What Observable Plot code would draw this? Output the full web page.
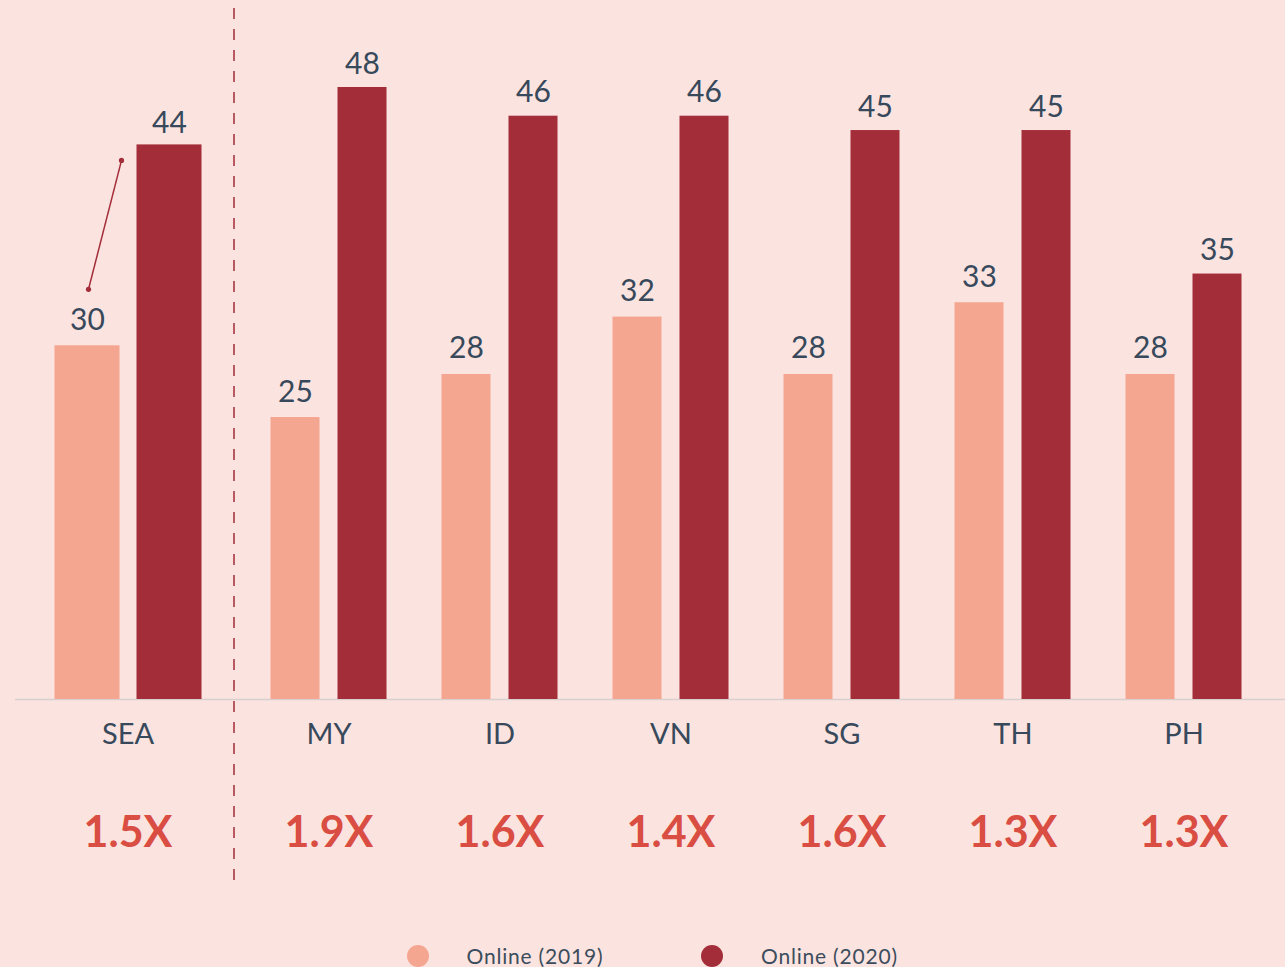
<!DOCTYPE html>
<html>
<head>
<meta charset="utf-8">
<script src="https://cdn.jsdelivr.net/npm/d3@7"></script>
<script src="https://cdn.jsdelivr.net/npm/@observablehq/plot@0.6"></script>
<style>
  html, body { margin: 0; padding: 0; background: #fbe3e0; }
  body { width: 1285px; height: 967px; overflow: hidden; font-family: Lato, "Open Sans", sans-serif; }
  #wrap { position: relative; width: 1285px; height: 967px; }
  #chart svg { display: block; }
  .legend-item { position: absolute; display: flex; align-items: center; font-size: 21px; line-height: 22px; color: #3b4d5c; letter-spacing: 0.8px; }
  .legend-item .sw { width: 22px; height: 22px; border-radius: 50%; margin-right: 38px; flex: none; }
</style>
</head>
<body>
<div id="wrap">
  <div id="chart"></div>
  <div id="legend"></div>
</div>
<script>
// ---- Data ----
const countries = ["SEA", "MY", "ID", "VN", "SG", "TH", "PH"];
const online2019 = [30, 25, 28, 32, 28, 33, 28];
const online2020 = [44, 48, 46, 46, 45, 45, 35];
const multipliers = ["1.5X", "1.9X", "1.6X", "1.4X", "1.6X", "1.3X", "1.3X"];
const seriesLabels = ["Online (2019)", "Online (2020)"];

// ---- Styles ----
const colLight = "#f5a690";
const colDark = "#a32d38";
const colText = "#37495a";
const colMult = "#d94d43";

const rows19 = countries.map((c, i) => ({country: c, value: online2019[i]}));
const rows20 = countries.map((c, i) => ({country: c, value: online2020[i]}));
const rowsC = countries.map((c, i) => ({country: c, mult: multipliers[i]}));
const isSEA = d => d.country === "SEA";
const notSEA = d => d.country !== "SEA";

const annotation = (index, scales) => {
  const bw = scales.x.bandwidth ? scales.x.bandwidth() : 0;
  const cx = scales.x("SEA") + bw / 2;
  const p1 = [cx - 69, scales.y(online2019[0]) - 56];
  const p2 = [cx - 36, scales.y(online2020[0]) + 16];
  const g = d3.create("svg:g");
  g.append("line").attr("x1", p1[0]).attr("y1", p1[1]).attr("x2", p2[0]).attr("y2", p2[1])
    .attr("stroke", colDark).attr("stroke-width", 1.5);
  for (const p of [p1, p2]) g.append("circle").attr("cx", p[0]).attr("cy", p[1]).attr("r", 2.6).attr("fill", colDark);
  return g.node();
};

const valueText = (rows, dx, dy) => Plot.text(rows, {x: "country", y: "value", text: d => String(d.value), dx, dy, lineAnchor: "bottom", fontSize: 30, fill: colText, ariaLabel: "values"});

const chart = Plot.plot({
  width: 1285,
  height: 893,
  margin: 0,
  style: {background: "transparent", fontFamily: "Lato, 'Open Sans', sans-serif", overflow: "visible"},
  x: {type: "band", domain: countries, range: [71.5, 1268.5], padding: 0, axis: null},
  y: {domain: [5.35, 48], range: [699, 87], clamp: true, axis: null},
  marks: [
    Plot.ruleY([0], {stroke: "#d8cfcf", strokeWidth: 1.5, insetLeft: 15}),
    // SEA bars (wider)
    Plot.barY(rows19.filter(isSEA), {x: "country", y: "value", fill: colLight, insetLeft: 0, insetRight: 106, dx: -17.5}),
    Plot.barY(rows20.filter(isSEA), {x: "country", y: "value", fill: colDark, insetLeft: 0, insetRight: 106, dx: 64.5}),
    // country bars
    Plot.barY(rows19.filter(notSEA), {x: "country", y: "value", fill: colLight, insetLeft: 27.5, insetRight: 94.5}),
    Plot.barY(rows20.filter(notSEA), {x: "country", y: "value", fill: colDark, insetLeft: 94.5, insetRight: 27.5}),
    // value labels
    valueText(rows19.filter(isSEA), -70.5, -16),
    valueText(rows20.filter(isSEA), 11.5, -12),
    valueText(rows19.filter(notSEA), -33.5, -16),
    valueText(rows20.filter(notSEA), 33.5, -14),
    // divider
    Plot.ruleX(["MY"], {dx: -95, stroke: colDark, strokeWidth: 1.5, strokeDasharray: "11,10", insetTop: 8, insetBottom: 8}),
    // country labels
    Plot.text(rowsC.filter(notSEA), {x: "country", text: "country", frameAnchor: "top", dy: 743, lineAnchor: "bottom", fontSize: 29, fill: colText, ariaLabel: "countries"}),
    Plot.text(rowsC.filter(isSEA), {x: "country", text: "country", frameAnchor: "top", dy: 743, dx: -30, lineAnchor: "bottom", fontSize: 29, fill: colText, ariaLabel: "countries"}),
    // multipliers
    Plot.text(rowsC.filter(notSEA), {x: "country", text: "mult", frameAnchor: "top", dy: 846, lineAnchor: "bottom", fontSize: 43, fontWeight: "bold", fill: colMult}),
    Plot.text(rowsC.filter(isSEA), {x: "country", text: "mult", frameAnchor: "top", dy: 846, dx: -30, lineAnchor: "bottom", fontSize: 43, fontWeight: "bold", fill: colMult}),
    annotation
  ]
});
d3.select(chart).selectAll('g[aria-label="values"]').attr("letter-spacing", "2");
d3.select(chart).selectAll('g[aria-label="countries"]').attr("letter-spacing", "3");
document.getElementById("chart").appendChild(chart);

// legend
const legend = document.getElementById("legend");
const legendPos = [406.5, 701];
seriesLabels.forEach((lab, i) => {
  const item = document.createElement("div");
  item.className = "legend-item";
  item.style.left = legendPos[i] + "px";
  item.style.top = "945px";
  const sw = document.createElement("span");
  sw.className = "sw";
  sw.style.background = [colLight, colDark][i];
  const t = document.createElement("span");
  t.textContent = lab;
  item.appendChild(sw);
  item.appendChild(t);
  legend.appendChild(item);
});
</script>
</body>
</html>
